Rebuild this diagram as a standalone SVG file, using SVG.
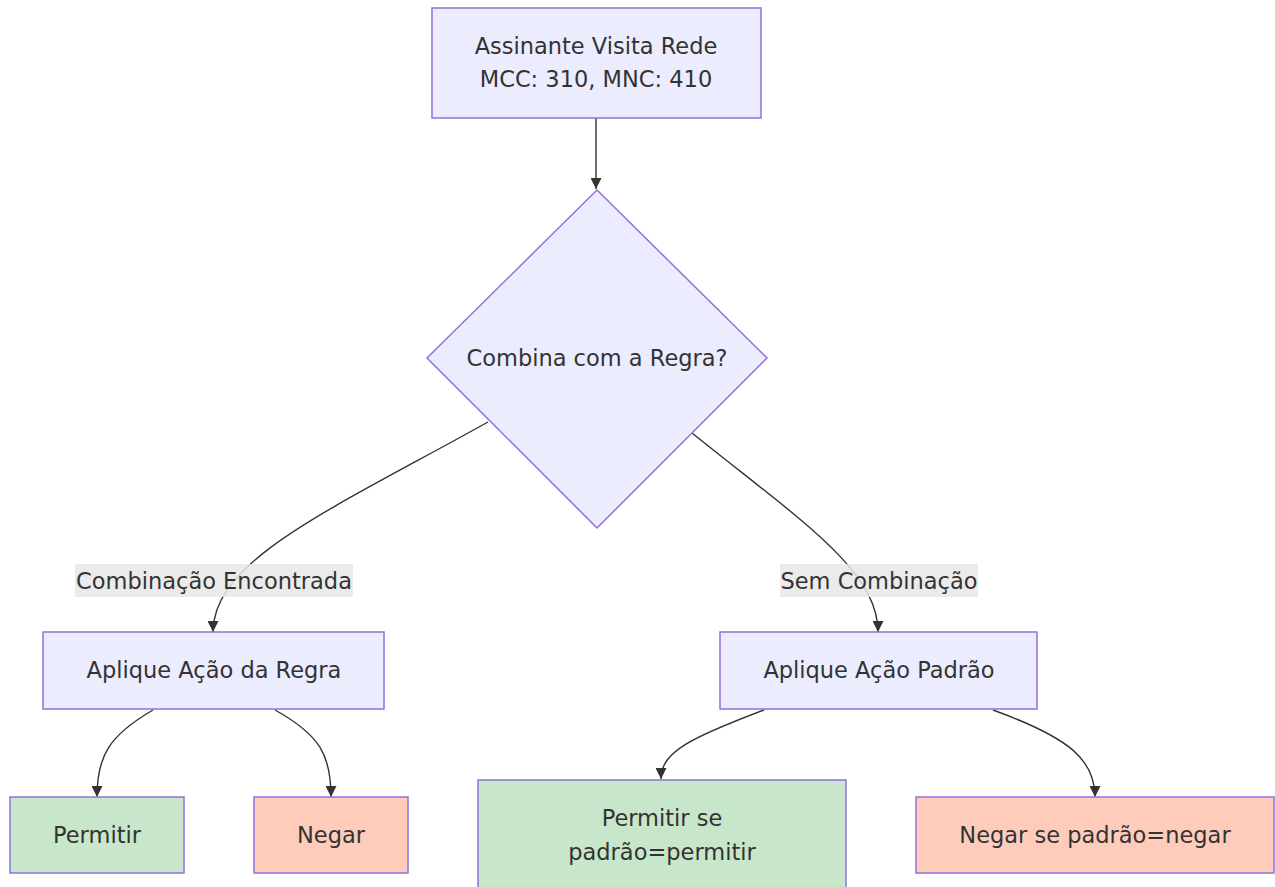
<svg xmlns="http://www.w3.org/2000/svg" width="1275" height="887" viewBox="0 0 1275 887">
<style>
  .node rect, .node polygon { fill: #ECECFF; stroke: #9370DB; stroke-width: 1.5; }
  .node.allow rect { fill: #C8E6C9; }
  .node.deny rect { fill: #FFCCBC; }
  text { font-family: "DejaVu Sans", sans-serif; font-size: 22.5px; fill: #333333; text-anchor: middle; }
  .edge { fill: none; stroke: #333333; stroke-width: 1.4; marker-end: url(#arrow); }
  .lbl rect { fill: #e8e8e8; opacity: 0.85; }
</style>
<defs>
  <marker id="arrow" viewBox="0 0 10 10" refX="10" refY="5" markerWidth="11" markerHeight="11" markerUnits="userSpaceOnUse" orient="auto">
    <path d="M0,0 L10,5 L0,10 z" fill="#333333"/>
  </marker>
</defs>
<rect width="1275" height="887" fill="#ffffff"/>
<g id="connectors">
  <path class="edge" d="M596,118 L596,189"/>
  <path class="edge" d="M488,422 C330,510 213,560 213,632"/>
  <path class="edge" d="M692,433 C800,520 878,570 878,632"/>
  <path class="edge" d="M153,710 C110,735 97,755 97,797"/>
  <path class="edge" d="M275,710 C320,735 331,755 331,797"/>
  <path class="edge" d="M764,710 C690,738 661,752 661,779"/>
  <path class="edge" d="M993,710 C1070,738 1095,760 1095,797"/>
  <g class="lbl" id="label-match">
    <rect x="75" y="564" width="278" height="33"/>
    <text x="214" y="588.5">Combinação Encontrada</text>
  </g>
  <g class="lbl" id="label-nomatch">
    <rect x="780" y="564" width="198" height="33"/>
    <text x="879" y="588.5">Sem Combinação</text>
  </g>
</g>
<g id="node-start" class="node">
  <rect x="432" y="8" width="329" height="110"/>
  <text x="596" y="54">Assinante Visita Rede</text>
  <text x="596" y="87">MCC: 310, MNC: 410</text>
</g>
<g id="node-decision" class="node">
  <polygon points="597,190 767,358 597,528 427,358"/>
  <text x="597" y="366">Combina com a Regra?</text>
</g>
<g id="node-rule" class="node">
  <rect x="43" y="632" width="341" height="77"/>
  <text x="214" y="678">Aplique Ação da Regra</text>
</g>
<g id="node-default" class="node">
  <rect x="720" y="632" width="317" height="77"/>
  <text x="879" y="678">Aplique Ação Padrão</text>
</g>
<g id="node-allow" class="node allow">
  <rect x="10" y="797" width="174" height="76"/>
  <text x="97" y="843">Permitir</text>
</g>
<g id="node-deny" class="node deny">
  <rect x="254" y="797" width="154" height="76"/>
  <text x="331" y="843">Negar</text>
</g>
<g id="node-allow-default" class="node allow">
  <rect x="478" y="780" width="368" height="112"/>
  <text x="662" y="826">Permitir se</text>
  <text x="662" y="860">padrão=permitir</text>
</g>
<g id="node-deny-default" class="node deny">
  <rect x="916" y="797" width="358" height="76"/>
  <text x="1095" y="843">Negar se padrão=negar</text>
</g>
</svg>
